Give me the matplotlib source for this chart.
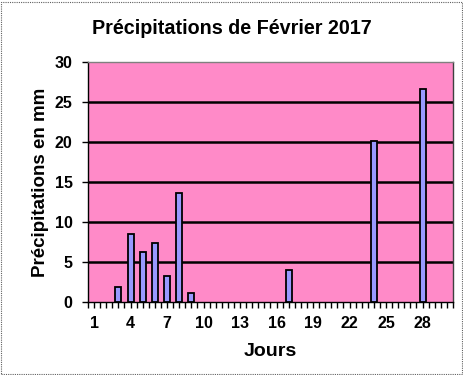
import matplotlib
matplotlib.use("Agg")
import matplotlib.pyplot as plt
import numpy as np
from matplotlib.patches import Rectangle

plt.rcParams['font.family'] = ['Liberation Sans', 'DejaVu Sans']

days = list(range(1, 31))
rain = [0, 0, 1.9, 8.5, 6.3, 7.4, 3.2, 13.6, 1.1, 0, 0, 0, 0, 0, 0, 0, 4.0,
        0, 0, 0, 0, 0, 0, 20.1, 0, 0, 0, 26.6, 0, 0]
tick_days = [1, 4, 7, 10, 13, 16, 19, 22, 25, 28]
yticks = [0, 5, 10, 15, 20, 25, 30]

fig = plt.figure(figsize=(4.64, 3.75), dpi=100)
ax = fig.add_axes([88/464, 1-302/375, (453-88)/464, (302-62)/375])
ax.set_facecolor('#FF8AC8')

for y in yticks[1:-1]:
    ax.axhline(y, color='black', lw=1.8, zorder=1)

vals = np.array(rain)
mask = vals > 0
ax.bar(np.array(days)[mask], vals[mask], width=0.5, color='#9999FF',
       edgecolor='black', linewidth=1.3, zorder=3)

ax.set_xlim(0.5, 30.5)
ax.set_ylim(0, 30)
ax.set_xticks(tick_days)
ax.set_xticklabels([str(d) for d in tick_days], fontsize=11.5, fontweight='bold')
ax.set_xticks(np.arange(0.5, 30.6, 0.5), minor=True)
ax.set_yticks(yticks)
ax.set_yticklabels([str(v) for v in yticks], fontsize=11.5, fontweight='bold')
ax.tick_params(axis='x', which='major', length=4, pad=6, width=1)
ax.tick_params(axis='x', which='minor', length=4, width=1)
ax.tick_params(axis='y', length=4, pad=7, width=1)

ax.spines['left'].set_color('black')
ax.spines['bottom'].set_color('black')
ax.spines['top'].set_color('#808080')
ax.spines['right'].set_color('#404040')
for s in ax.spines.values():
    s.set_linewidth(1.0)

ax.set_xlabel('Jours', fontsize=14, fontweight='bold', labelpad=9)
ax.set_ylabel('Précipitations en mm', fontsize=13.5, fontweight='bold', labelpad=4)
fig.text(232/464, 1-28/375, 'Précipitations de Février 2017', fontsize=14.2,
         fontweight='bold', ha='center', va='center')

fig.patches.append(Rectangle((0.002, 0.003), 0.994, 0.993, transform=fig.transFigure,
                             fill=False, edgecolor='#606060', lw=0.8, linestyle=(0, (1, 1))))

fig.savefig('out.png', dpi=100)
